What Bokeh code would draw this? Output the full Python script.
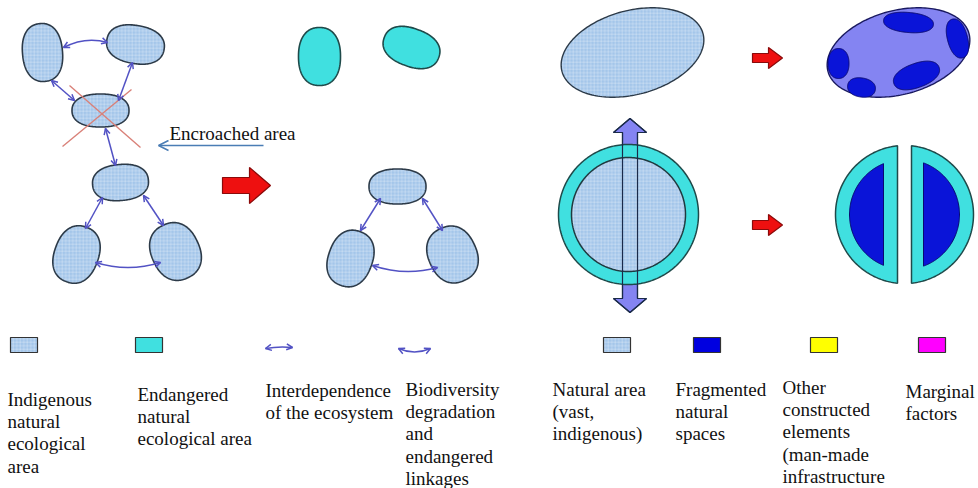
import numpy as np
from bokeh.plotting import figure
from bokeh.models import Range1d, Arrow, OpenHead, ColumnDataSource
from bokeh.embed import file_html
from bokeh.resources import INLINE
from bokeh.core.properties import value

# ---------------- data ----------------
# indigenous natural ecological areas (textured light blue blobs)
nat_x = [42, 135, 100, 120, 76, 175, 397, 350, 452]
nat_y = [52, 44, 110, 182, 254, 251, 186, 258, 254]
nat_w = [40, 58, 57, 56, 44, 48, 57, 44, 48]
nat_h = [58, 38, 33, 36, 58, 58, 35, 57, 57]
nat_a = [-5, 10, 0, -5, 20, -25, 0, 20, -25]

# endangered natural ecological areas (cyan blobs)
end_x = [319, 411]
end_y = [56, 47]
end_w = [42, 58]
end_h = [58, 38]
end_a = [0, 20]

# vast natural area and fragmented area (big blobs)
big_x = [632, 898]
big_y = [52, 52]
big_w = [146, 146]
big_h = [84, 84]
big_a = [-15, -15]
big_fill = ["#a4c6ea", "#8484f2"]

# fragmented natural spaces (dark blue patches)
frag_x = [908, 957, 838, 861, 916]
frag_y = [22, 38, 63, 87, 75]
frag_w = [50, 20, 21, 28, 48]
frag_h = [20, 40, 30, 19, 24]
frag_a = [5, -15, 0, 10, -20]

# interdependence links (double arrows)
link_x0 = [63, 51, 132, 105, 102, 143, 95, 380, 422, 372, 265, 398]
link_y0 = [47, 80, 62, 128, 197, 195, 262, 198, 198, 265, 348, 348]
link_x1 = [107, 74, 118, 115, 85, 163, 160, 360, 442, 437, 292, 430]
link_y1 = [42, 100, 100, 165, 228, 225, 262, 230, 230, 267, 347, 348]
link_bow = [-9, 0, 0, 0, 0, 0, 10, 0, 0, 10, -2, 7]

# encroachment cross
cross_x0 = [69, 62]
cross_y0 = [85, 146]
cross_x1 = [140, 131]
cross_y1 = [147, 89]

# red block arrows: left, right, top, bottom, body top, body bottom, head base
red_l = [222, 752, 752]
red_r = [270, 782, 782]
red_t = [167, 47, 214]
red_b = [203, 68, 235]
red_bt = [177, 53, 220]
red_bb = [193, 62, 229]
red_hb = [249, 768, 768]

# ring (natural area with endangered margin)
ring_cx, ring_cy, ring_r_out, ring_r_in = 628, 214, 70, 57
# split ring
split_cx, split_cy, split_r_out, split_r_in = 904, 214, 69, 55
split_gap_outer = [897, 911]
split_gap_inner = [883, 923]

# vertical lavender double arrow
va_shaft = [622, 637]
va_head = [613, 646]
va_tip = [118, 312]
va_base = [132, 298]

# legend
leg_sq_x = [10, 135, 603, 693, 810, 918]
leg_sq_fill = ["#a4c6ea", "#40e0e0", "#a4c6ea", "#0000e0", "#ffff00", "#ff00ff"]
leg_sq_hatch = ["cross", " ", "cross", " ", " ", " "]
leg_text = ["Indigenous\nnatural\necological\narea",
            "Endangered\nnatural\necological area",
            "Interdependence\nof the ecosystem",
            "Biodiversity\ndegradation\nand\nendangered\nlinkages",
            "Natural area\n(vast,\nindigenous)",
            "Fragmented\nnatural\nspaces",
            "Other\nconstructed\nelements\n(man-made\ninfrastructure",
            "Marginal\nfactors"]
leg_text_x = [7, 137, 265, 405, 552, 675, 782, 905]
leg_text_y = [399, 394, 390, 389, 389, 389, 387, 391]

# ---------------- helpers ----------------
def blob(cx, cy, w, h, ang, n=2.3, k=200):
    t = np.linspace(0, 2 * np.pi, k, endpoint=False)
    c, s = np.cos(t), np.sin(t)
    ex = (w / 2) * np.sign(c) * np.abs(c) ** (2 / n)
    ey = (h / 2) * np.sign(s) * np.abs(s) ** (2 / n)
    th = np.radians(ang)
    x = cx + ex * np.cos(th) - ey * np.sin(th)
    y = cy + ex * np.sin(th) + ey * np.cos(th)
    return list(x), list(y)

def blobs(xs, ys, ws, hs, angs, n=2.3):
    X, Y = [], []
    for a in zip(xs, ys, ws, hs, angs):
        bx, by = blob(*a, n=n)
        X.append(bx); Y.append(by)
    return X, Y

def arc_piece(cx, cy, r, xcut, side):
    th0 = np.arccos(np.clip((xcut - cx) / r, -1, 1))
    if side == "left":
        t = np.linspace(th0, 2 * np.pi - th0, 120)
    else:
        t = np.linspace(-th0, th0, 120)
    return list(cx + r * np.cos(t)), list(cy + r * np.sin(t))

# ---------------- figure ----------------
p = figure(width=978, height=488, x_range=Range1d(0, 978), y_range=Range1d(488, 0),
           output_backend="svg", toolbar_location=None, min_border=0)
p.axis.visible = False
p.grid.visible = False
p.outline_line_color = None
p.background_fill_color = "white"
p.border_fill_color = "white"

NAT_FILL = "#a4c6ea"
OUTLINE = "#2c3a48"
hatch = dict(hatch_pattern="cross", hatch_color="white", hatch_alpha=0.45,
             hatch_scale=3.5, hatch_weight=0.6)

# indigenous blobs
X, Y = blobs(nat_x, nat_y, nat_w, nat_h, nat_a)
p.patches(X, Y, fill_color=NAT_FILL, line_color=OUTLINE, line_width=1.6, **hatch)
# endangered blobs
X, Y = blobs(end_x, end_y, end_w, end_h, end_a)
p.patches(X, Y, fill_color="#40e0e0", line_color="#1f4a4a", line_width=1.6)
# big blobs
X, Y = blobs(big_x, big_y, big_w, big_h, big_a, n=2.0)
p.patches(X[:1], Y[:1], fill_color=big_fill[0], line_color=OUTLINE, line_width=1.4, **hatch)
p.patches(X[1:], Y[1:], fill_color=big_fill[1], line_color="#1a1a60", line_width=1.4)
X, Y = blobs(frag_x, frag_y, frag_w, frag_h, frag_a, n=2.2)
p.patches(X, Y, fill_color="#0a14d8", line_color="#0a0a70", line_width=1)

# links
LINK = "#5252c4"
lx0, ly0, lx1, ly1 = map(np.array, (link_x0, link_y0, link_x1, link_y1))
lcx = (lx0 + lx1) / 2
lcy = (ly0 + ly1) / 2 + np.array(link_bow)
p.quadratic(x0=lx0, y0=ly0, x1=lx1, y1=ly1, cx=lcx, cy=lcy, line_color=LINK, line_width=1.5)
hs_x, hs_y, he_x, he_y = [], [], [], []
for ex, ey, ccx, ccy in list(zip(lx1, ly1, lcx, lcy)) + list(zip(lx0, ly0, lcx, lcy)):
    dx, dy = ex - ccx, ey - ccy
    L = np.hypot(dx, dy)
    hs_x.append(ex - 3 * dx / L); hs_y.append(ey - 3 * dy / L)
    he_x.append(ex); he_y.append(ey)
hsrc = ColumnDataSource(dict(xs=hs_x, ys=hs_y, xe=he_x, ye=he_y))
p.add_layout(Arrow(end=OpenHead(size=6, line_color=LINK, line_width=1.5), line_alpha=0,
                   x_start="xs", y_start="ys", x_end="xe", y_end="ye", source=hsrc))

# encroachment cross
p.segment(cross_x0, cross_y0, cross_x1, cross_y1, line_color="#d98078", line_width=1.4)

# encroached area arrow + label
p.add_layout(Arrow(end=OpenHead(size=10, line_color="#4a7db5", line_width=1.5),
                   x_start=263, y_start=145, x_end=158, y_end=145,
                   line_color="#4a7db5", line_width=1.5))
p.text(x=[169], y=[133], text=["Encroached area"], text_font=value("Liberation Serif"),
       text_font_size="19px", text_color="#111111", text_baseline="alphabetic")

# red block arrows
RX, RY = [], []
for l, r, t, b, bt, bb, hb in zip(red_l, red_r, red_t, red_b, red_bt, red_bb, red_hb):
    m = (t + b) / 2
    RX.append([l, hb, hb, r, hb, hb, l])
    RY.append([bt, bt, t, m, b, bb, bb])
p.patches(RX, RY, fill_color="#ee1010", line_color="#8a0a0a", line_width=1.2)

# vertical lavender arrow (fill behind the ring)
VX = [va_shaft[0], va_shaft[0], va_head[0], (va_shaft[0] + va_shaft[1]) / 2, va_head[1],
      va_shaft[1], va_shaft[1], va_head[1], (va_shaft[0] + va_shaft[1]) / 2, va_head[0]]
VY = [va_base[0], va_base[1], va_base[1], va_tip[1], va_base[1],
      va_base[1], va_base[0], va_base[0], va_tip[0], va_base[0]]
p.patch(VX, VY, fill_color="#8484f2", line_color="#1a2a4a", line_width=1.2)

# ring
t = np.linspace(0, 2 * np.pi, 240)
p.patch(list(ring_cx + ring_r_out * np.cos(t)), list(ring_cy + ring_r_out * np.sin(t)),
        fill_color="#40e0e0", line_color="#1f4a4a", line_width=1.5)
p.patch(list(ring_cx + ring_r_in * np.cos(t)), list(ring_cy + ring_r_in * np.sin(t)),
        fill_color=NAT_FILL, line_color="#1f3a40", line_width=1.5, **hatch)
p.patch(VX, VY, fill_alpha=0, line_color="#1a2a4a", line_width=1.2)

# split ring
for side, ko, ki in (("left", 0, 0), ("right", 1, 1)):
    ox, oy = arc_piece(split_cx, split_cy, split_r_out, split_gap_outer[ko], side)
    p.patch(ox, oy, fill_color="#40e0e0", line_color="#1f4a4a", line_width=1.5)
    ix, iy = arc_piece(split_cx, split_cy, split_r_in, split_gap_inner[ki], side)
    p.patch(ix, iy, fill_color="#0a14d8", line_color="#0a0a70", line_width=1)

# legend squares
for x, fc, hp in zip(leg_sq_x, leg_sq_fill, leg_sq_hatch):
    extra = hatch if hp == "cross" else {}
    p.patch([x, x + 27, x + 27, x], [337, 337, 352, 352], fill_color=fc,
            line_color="#333333", line_width=1.2, **extra)

# legend texts
tx, ty, tt = [], [], []
for s, x, y in zip(leg_text, leg_text_x, leg_text_y):
    for i, line in enumerate(s.split("\n")):
        tx.append(x); ty.append(y + i * 22.2); tt.append(line)
p.text(x=tx, y=ty, text=tt, text_font=value("Liberation Serif"), text_font_size="19px",
       text_color="#111111", text_baseline="alphabetic")

open("out.html", "w").write(file_html(p, INLINE))
